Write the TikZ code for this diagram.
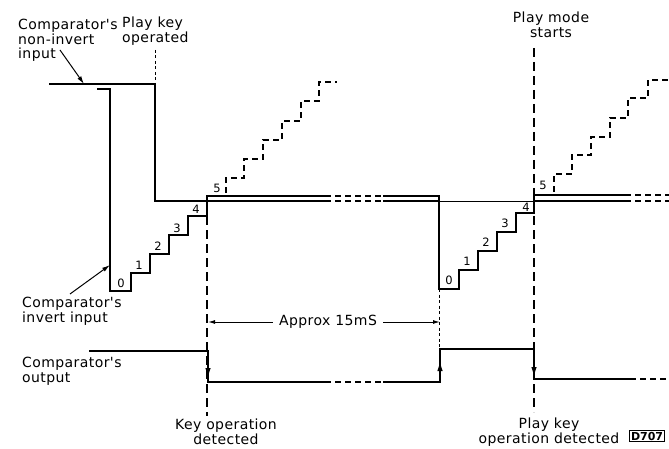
\documentclass[tikz,border=0pt]{standalone}
\usepackage{fontspec}
\usetikzlibrary{arrows.meta}
\newfontfamily\lblfont[LetterSpace=3]{DejaVu Sans}
\newfontfamily\digfont{DejaVu Sans}
\begin{document}
\begin{tikzpicture}[x=1pt,y=-1pt,
  wave/.style={line width=1.5pt, line join=miter},
  thinwave/.style={line width=0.9pt},
  brk/.style={line width=1.5pt, dash pattern=on 6pt off 4pt},
  guide/.style={line width=1.3pt, dash pattern=on 9pt off 5pt},
  sguide/.style={line width=1pt, dash pattern=on 3pt off 2.5pt},
  lbl/.style={font=\lblfont\fontsize{14}{14.5}\selectfont, inner sep=0pt},
  dig/.style={font=\digfont\fontsize{11.5}{12}\selectfont, inner sep=0pt},
  ptr/.style={line width=1pt, -{Latex[length=8pt,width=4.5pt]}},
  flow/.style={line width=1.5pt, -{Latex[length=10pt,width=5.5pt]}},
  dim/.style={line width=1pt, -{Latex[length=7pt,width=4pt]}},
]
\useasboundingbox (0,0) rectangle (669,449);

% ---------- non-invert input ----------
\draw[wave] (49,84) -- (155,84) -- (155,201) -- (325,201);
\draw[brk] (325,201) -- (383,201);
\draw[wave] (383,201) -- (439,201);
\draw[thinwave] (439,201) -- (534,201);
\draw[wave] (534,201) -- (625,201);
\draw[brk] (625,201) -- (669,201);

% ---------- invert input ----------
\draw[wave] (97,89) -- (110,89) -- (110,291) -- (131,291) -- (131,273) -- (150,273)
  -- (150,254) -- (169,254) -- (169,235) -- (188,235) -- (188,216) -- (207,216)
  -- (207,196) -- (325,196);
\draw[brk] (325,196) -- (383,196);
\draw[wave] (383,196) -- (439,196) -- (439,289) -- (459,289) -- (459,270) -- (478,270)
  -- (478,251) -- (497,251) -- (497,232) -- (516,232) -- (516,213) -- (534,213)
  -- (534,195) -- (625,195);
\draw[brk] (625,195) -- (669,195);

% ---------- dashed continuation staircases ----------
\draw[brk] (226,193) -- (226,178) -- (244,178) -- (244,159) -- (263,159) -- (263,140)
  -- (282,140) -- (282,121) -- (301,121) -- (301,101) -- (319,101) -- (319,82) -- (337,82);
\draw[brk] (554,192) -- (554,174) -- (572,174) -- (572,155) -- (591,155) -- (591,137)
  -- (610,137) -- (610,118) -- (628,118) -- (628,98) -- (648,98) -- (648,80) -- (669,80);

% ---------- step numbers ----------
\node[dig] (a0) at (121,283) {0};
\node[dig] (a1) at (139,265) {1};
\node[dig] (a2) at (158,246) {2};
\node[dig] (a3) at (177,228) {3};
\node[dig] (a4) at (196,209) {4};
\node[dig] (a5) at (217,188) {5};
\node[dig] (b0) at (449,280) {0};
\node[dig] (b1) at (467,261) {1};
\node[dig] (b2) at (486,242) {2};
\node[dig] (b3) at (505,223) {3};
\node[dig] (b4) at (526,207) {4};
\node[dig] (b5) at (543,185) {5};

% ---------- vertical guides ----------
\draw[sguide] (155,50) -- (155,84);
\draw[guide] (207,216) -- (207,416);
\draw[sguide] (439,289) -- (439,349);
\draw[guide] (534,48) -- (534,412);

% ---------- comparator output ----------
\draw[wave] (89,351) -- (208,351) -- (208,382) -- (325,382);
\draw[brk] (325,382) -- (383,382);
\draw[wave] (383,382) -- (440,382) -- (440,349) -- (534,349) -- (534,379) -- (630,379);
\draw[brk] (630,379) -- (669,379);
\draw[flow] (208,351) -- (208,378);
\draw[flow] (440,382) -- (440,361);
\draw[flow] (534,349) -- (534,377);

% ---------- 15 mS dimension ----------
\node[lbl, anchor=center] (approx) at (328,322) {Approx 15mS};
\coordinate (dl) at (208,322);
\coordinate (dr) at (440,322);
\draw[dim] (approx.west) ++(-6,0) -- (dl);
\draw[dim] (approx.east) ++(6,0) -- (dr);

% ---------- labels ----------
\node[lbl, anchor=north west, align=left] (nonin) at (18,19) {Comparator's\\non-invert\\input};
\coordinate (nonintip) at (84,84);
\draw[ptr] (60,50) -- (nonintip);
\node[lbl, anchor=north west, align=left] (playop) at (122,17) {Play key\\operated};
\node[lbl, anchor=north west, align=left] (invin) at (22,297) {Comparator's\\invert input};
\coordinate (invtip) at (110,265);
\draw[ptr] (70,294) -- (invtip);
\node[lbl, anchor=north west, align=left] (outl) at (22,357) {Comparator's\\output};
\node[lbl, anchor=north, align=center] (keydet) at (226,419) {Key operation\\detected};
\node[lbl, anchor=north, align=center] (playst) at (551,12) {Play mode\\starts};
\node[lbl, anchor=north, align=center] (playdet) at (549,418) {Play key\\operation detected};
\node[draw, line width=1pt, font=\digfont\bfseries\fontsize{11}{12}\selectfont, inner sep=1.5pt, anchor=west] (code) at (629,436) {D707};
\end{tikzpicture}
\end{document}
